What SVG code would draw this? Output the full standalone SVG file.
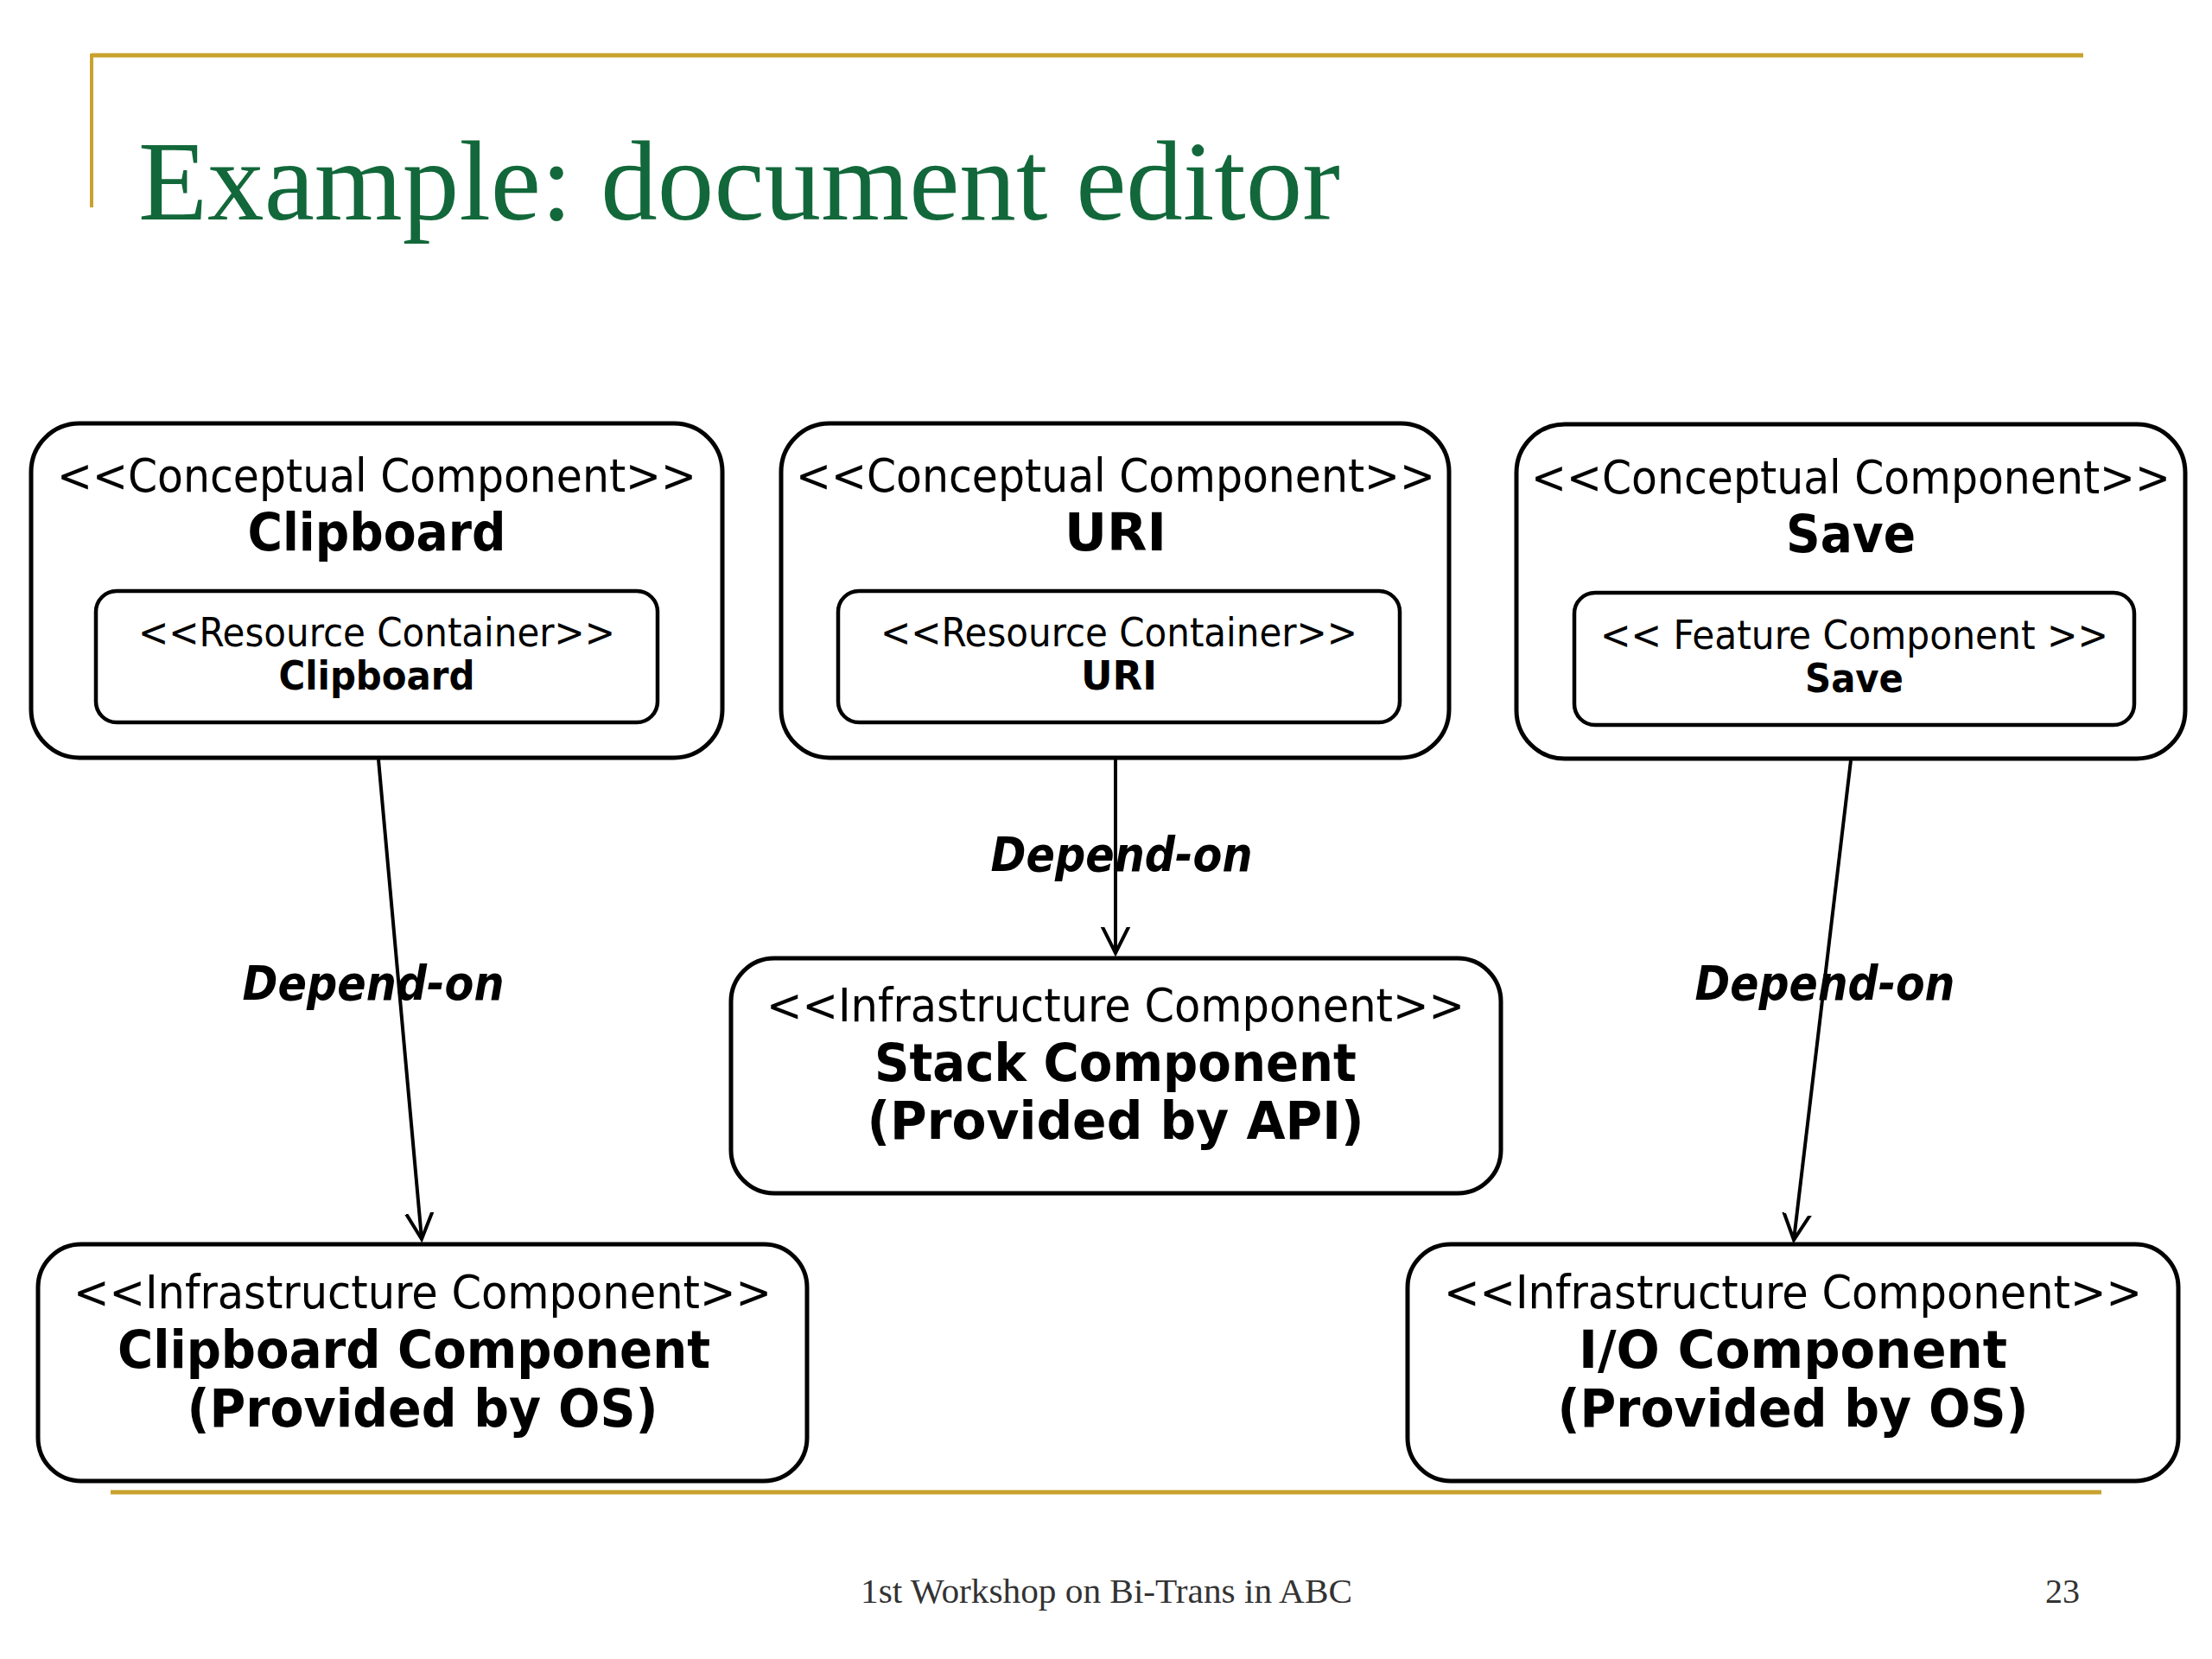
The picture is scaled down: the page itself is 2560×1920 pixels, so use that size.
<svg xmlns="http://www.w3.org/2000/svg" width="2560" height="1920" viewBox="0 0 2560 1920">
<style>
.box{fill:#fff;stroke:#000;stroke-width:5}
.inner{fill:#fff;stroke:#000;stroke-width:4.5}
.st{font-family:"DejaVu Sans Condensed","DejaVu Sans",sans-serif;font-size:54px;fill:#000;text-anchor:middle}
.sti{font-family:"DejaVu Sans Condensed","DejaVu Sans",sans-serif;font-size:46px;fill:#000;text-anchor:middle}
.bt{font-family:"DejaVu Sans Condensed","DejaVu Sans",sans-serif;font-size:60px;font-weight:bold;fill:#000;text-anchor:middle}
.bti{font-family:"DejaVu Sans Condensed","DejaVu Sans",sans-serif;font-size:46px;font-weight:bold;fill:#000;text-anchor:middle}
.lbl{font-family:"DejaVu Sans Condensed","DejaVu Sans",sans-serif;font-size:55px;font-weight:bold;font-style:italic;fill:#000;text-anchor:middle}
.conn{stroke:#000;stroke-width:4;fill:none}
.gold{stroke:#C9A22E;fill:none}
.foot{font-family:"Liberation Serif",serif;font-size:40px;fill:#333}
</style>
<defs>
<marker id="open" markerUnits="userSpaceOnUse" markerWidth="60" markerHeight="60" viewBox="-30 -30 60 60" refX="0" refY="0" orient="auto">
<path d="M-40,-20 L0,0 L-40,20" fill="none" stroke="#000" stroke-width="4"/>
</marker>
</defs>
<rect width="2560" height="1920" fill="#fff"/>
<g id="frame">
<line class="gold" x1="106" y1="64" x2="2411" y2="64" stroke-width="5"/>
<line class="gold" x1="106" y1="62" x2="106" y2="240" stroke-width="4"/>
<line class="gold" x1="128" y1="1727" x2="2432" y2="1727" stroke-width="5"/>
</g>
<text x="160" y="254" font-family="'Liberation Serif',serif" font-size="132" fill="#12683A" textLength="1391" lengthAdjust="spacingAndGlyphs">Example: document editor</text>
<g id="node-clipboard">
<rect class="box" x="36" y="490" width="800" height="387" rx="56"/>
<text class="st" x="436" y="569" textLength="740" lengthAdjust="spacingAndGlyphs">&lt;&lt;Conceptual Component&gt;&gt;</text>
<text class="bt" x="436" y="637" textLength="299" lengthAdjust="spacingAndGlyphs">Clipboard</text>
<rect class="inner" x="111" y="684" width="650" height="152" rx="24"/>
<text class="sti" x="436" y="748" textLength="552" lengthAdjust="spacingAndGlyphs">&lt;&lt;Resource Container&gt;&gt;</text>
<text class="bti" x="436" y="798" textLength="227" lengthAdjust="spacingAndGlyphs">Clipboard</text>
</g>
<g id="node-uri">
<rect class="box" x="904" y="490" width="773" height="387" rx="56"/>
<text class="st" x="1291" y="569" textLength="740" lengthAdjust="spacingAndGlyphs">&lt;&lt;Conceptual Component&gt;&gt;</text>
<text class="bt" x="1291" y="637" textLength="118" lengthAdjust="spacingAndGlyphs">URI</text>
<rect class="inner" x="970" y="684" width="650" height="152" rx="24"/>
<text class="sti" x="1295" y="748" textLength="552" lengthAdjust="spacingAndGlyphs">&lt;&lt;Resource Container&gt;&gt;</text>
<text class="bti" x="1295" y="798" textLength="88" lengthAdjust="spacingAndGlyphs">URI</text>
</g>
<g id="node-save">
<rect class="box" x="1755" y="491" width="774" height="387" rx="56"/>
<text class="st" x="2142" y="571" textLength="740" lengthAdjust="spacingAndGlyphs">&lt;&lt;Conceptual Component&gt;&gt;</text>
<text class="bt" x="2142" y="639" textLength="150" lengthAdjust="spacingAndGlyphs">Save</text>
<rect class="inner" x="1822" y="686" width="648" height="153" rx="24"/>
<text class="sti" x="2146" y="751" textLength="588" lengthAdjust="spacingAndGlyphs">&lt;&lt; Feature Component &gt;&gt;</text>
<text class="bti" x="2146" y="801" textLength="114" lengthAdjust="spacingAndGlyphs">Save</text>
</g>
<g id="node-stack">
<rect class="box" x="846" y="1109" width="891" height="272" rx="50"/>
<text class="st" x="1291" y="1182" textLength="808" lengthAdjust="spacingAndGlyphs">&lt;&lt;Infrastructure Component&gt;&gt;</text>
<text class="bt" x="1291" y="1251" textLength="558" lengthAdjust="spacingAndGlyphs">Stack Component</text>
<text class="bt" x="1291" y="1318" textLength="575" lengthAdjust="spacingAndGlyphs">(Provided by API)</text>
</g>
<g id="node-clipboard-component">
<rect class="box" x="44" y="1440" width="890" height="274" rx="50"/>
<text class="st" x="489" y="1514" textLength="808" lengthAdjust="spacingAndGlyphs">&lt;&lt;Infrastructure Component&gt;&gt;</text>
<text class="bt" x="479" y="1583" textLength="686" lengthAdjust="spacingAndGlyphs">Clipboard Component</text>
<text class="bt" x="489" y="1651" textLength="545" lengthAdjust="spacingAndGlyphs">(Provided by OS)</text>
</g>
<g id="node-io">
<rect class="box" x="1629" y="1440" width="892" height="274" rx="50"/>
<text class="st" x="2075" y="1514" textLength="808" lengthAdjust="spacingAndGlyphs">&lt;&lt;Infrastructure Component&gt;&gt;</text>
<text class="bt" x="2075" y="1583" textLength="496" lengthAdjust="spacingAndGlyphs">I/O Component</text>
<text class="bt" x="2075" y="1651" textLength="545" lengthAdjust="spacingAndGlyphs">(Provided by OS)</text>
</g>
<g id="connectors">
<line class="conn" x1="438" y1="879" x2="488" y2="1434" marker-end="url(#open)"/>
<line class="conn" x1="1291" y1="879" x2="1291" y2="1103" marker-end="url(#open)"/>
<line class="conn" x1="2142" y1="880" x2="2076" y2="1435" marker-end="url(#open)"/>
<text class="lbl" x="432" y="1157" textLength="303" lengthAdjust="spacingAndGlyphs">Depend-on</text>
<text class="lbl" x="1298" y="1008" textLength="303" lengthAdjust="spacingAndGlyphs">Depend-on</text>
<text class="lbl" x="2112" y="1157" textLength="301" lengthAdjust="spacingAndGlyphs">Depend-on</text>
</g>
<text class="foot" x="996" y="1855" textLength="569" lengthAdjust="spacingAndGlyphs">1st Workshop on Bi-Trans in ABC</text>
<text class="foot" x="2367" y="1855" textLength="40" lengthAdjust="spacingAndGlyphs">23</text>
</svg>
